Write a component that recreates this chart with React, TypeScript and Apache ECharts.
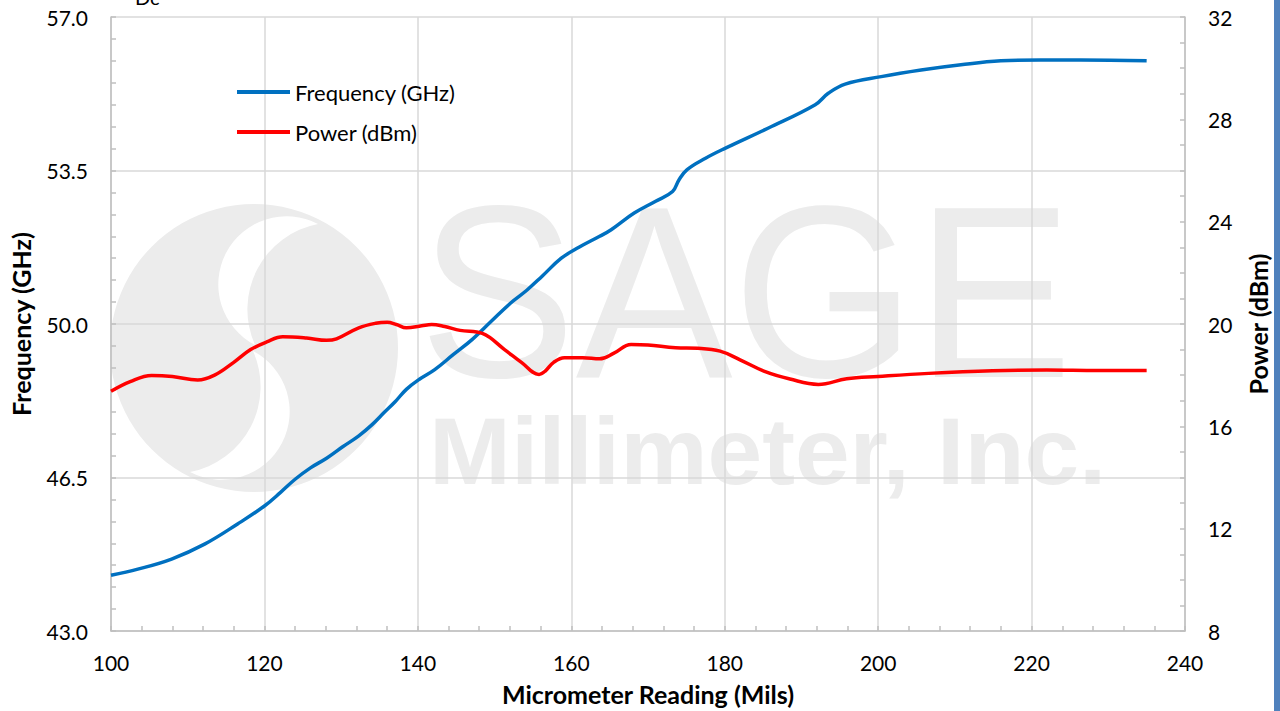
import React, { useEffect, useRef } from "react";
import * as echarts from "echarts";

const freqX = [100, 103.5, 107.9, 112.2, 116.5, 120, 122.1, 124, 126, 128.1, 130.2, 132.3, 134, 135.6, 137, 138.5, 140.2, 142.2, 144.6, 147.1, 149.5, 152.1, 154.2, 156.2, 158.7, 161, 163.7, 165.2, 168.2, 171, 173.2, 174.05, 175.1, 177.5, 180.1, 185.7, 191.8, 193.5, 195.7, 200.4, 205.6, 210.8, 216, 221.2, 226.4, 235];
const freqY = [44.27, 44.41, 44.64, 44.98, 45.44, 45.85, 46.16, 46.46, 46.72, 46.94, 47.2, 47.45, 47.7, 47.98, 48.22, 48.51, 48.74, 48.96, 49.3, 49.65, 50.05, 50.48, 50.77, 51.09, 51.5, 51.75, 52.0, 52.15, 52.53, 52.8, 53.02, 53.29, 53.52, 53.78, 54.01, 54.47, 55.0, 55.26, 55.47, 55.64, 55.79, 55.91, 56.0, 56.02, 56.02, 56.0];

const powerX = [100, 102.5, 105.3, 108, 111.3, 113.5, 116, 118.2, 120.3, 122.4, 125.5, 128.1, 129.4, 132.3, 134.5, 136.0, 137.2, 138.5, 140.5, 141.8, 143.5, 145.5, 148.4, 151.3, 153.5, 155.8, 156.6, 157.7, 159.1, 161.5, 163.7, 165.5, 167.8, 170, 173.6, 176.5, 179.4, 182, 185.1, 188.5, 192.2, 195.9, 200, 206.6, 214.9, 222, 228.7, 235];
const powerY = [17.37, 17.75, 17.99, 17.95, 17.81, 18.0, 18.5, 19.0, 19.3, 19.5, 19.45, 19.36, 19.42, 19.85, 20.03, 20.07, 19.98, 19.85, 19.93, 19.98, 19.9, 19.75, 19.63, 19.0, 18.5, 18.03, 18.16, 18.5, 18.68, 18.68, 18.64, 18.85, 19.2, 19.18, 19.07, 19.05, 18.94, 18.6, 18.16, 17.85, 17.64, 17.86, 17.95, 18.07, 18.17, 18.2, 18.18, 18.18];

const seriesNames = ["Frequency (GHz)", "Power (dBm)"];
const xAxisName = "Micrometer Reading (Mils)";
const leftAxisName = "Frequency (GHz)";
const rightAxisName = "Power (dBm)";

const FONT = "Lato";
const AXIS_COLOR = "#bfbfbf";
const GRID_COLOR = "#d9d9d9";
const WM = "#ececec";

export default function App() {
  const ref = useRef<HTMLDivElement>(null);
  useEffect(() => {
    if (!ref.current) return;
    const topPath = echarts.graphic.extendPath(
      "M 318 224 A 68 68 0 0 0 255 345 A 87 87 0 0 1 318 224 Z",
      {}
    );
    const botPath = echarts.graphic.extendPath(
      "M 190 472 A 68 68 0 0 0 253 351 A 87 87 0 0 1 190 472 Z",
      {}
    );
    echarts.graphic.registerShape("swooshTop", topPath);
    echarts.graphic.registerShape("swooshBot", botPath);

    const chart = echarts.init(ref.current, undefined, { renderer: "svg" });
    const freqData = freqX.map((x, i) => [x, freqY[i]]);
    const powerData = powerX.map((x, i) => [x, powerY[i]]);

    const axisCommon = {
      axisLine: { show: true, lineStyle: { color: AXIS_COLOR, width: 1.5 } },
      axisTick: { show: true, inside: true, length: 5, lineStyle: { color: AXIS_COLOR, width: 1.5 } },
      axisLabel: { color: "#000", fontFamily: FONT, fontSize: 21 },
      nameTextStyle: { color: "#000", fontFamily: FONT, fontSize: 25, fontWeight: "bold" as const },
    };

    chart.setOption({
      animation: false,
      backgroundColor: "#fff",
      grid: { left: 106, right: 95, top: 17, bottom: 79, containLabel: false },
      legend: {
        orient: "vertical",
        left: 237,
        top: 81,
        padding: 0,
        icon: "rect",
        itemWidth: 53,
        itemHeight: 4,
        itemGap: 18,
        textStyle: { color: "#000", fontFamily: FONT, fontSize: 22 },
        data: seriesNames,
      },
      xAxis: {
        type: "value",
        min: 100,
        max: 240,
        interval: 20,
        name: xAxisName,
        nameLocation: "middle",
        nameGap: 50,
        ...axisCommon,
        axisLabel: { ...axisCommon.axisLabel, margin: 21 },
        minorTick: { show: true, splitNumber: 5, length: 5, lineStyle: { color: AXIS_COLOR, width: 1.5 } },
        splitLine: { show: true, lineStyle: { color: GRID_COLOR, width: 1.5 } },
      },
      yAxis: [
        {
          type: "value",
          position: "left",
          min: 43,
          max: 57,
          interval: 3.5,
          name: leftAxisName,
          nameLocation: "middle",
          nameRotate: 90,
          nameGap: 78,
          ...axisCommon,
          axisLabel: { ...axisCommon.axisLabel, margin: 23, formatter: (v: number) => v.toFixed(1) },
          minorTick: { show: true, splitNumber: 7, length: 5, lineStyle: { color: AXIS_COLOR, width: 1.5 } },
          splitLine: { show: true, lineStyle: { color: GRID_COLOR, width: 1.5 } },
        },
        {
          type: "value",
          position: "right",
          min: 8,
          max: 32,
          interval: 4,
          name: rightAxisName,
          nameLocation: "middle",
          nameRotate: 90,
          nameGap: 60,
          ...axisCommon,
          axisLabel: { ...axisCommon.axisLabel, margin: 23 },
          minorTick: { show: true, splitNumber: 4, length: 5, lineStyle: { color: AXIS_COLOR, width: 1.5 } },
          splitLine: { show: false },
        },
      ],
      graphic: [
        { type: "circle", z: -10, silent: true, shape: { cx: 254, cy: 348, r: 144 }, style: { fill: WM } },
        { type: "swooshTop", z: -9, silent: true, style: { fill: "#fff" } },
        { type: "swooshBot", z: -9, silent: true, style: { fill: "#fff" } },
        {
          type: "text", z: -10, silent: true, x: 419, y: 292, scaleX: 0.96,
          style: { text: "SAGE", fill: WM, font: "245px 'Liberation Sans'", textAlign: "left", textVerticalAlign: "middle" },
        },
        {
          type: "text", z: -10, silent: true, x: 429, y: 451, scaleX: 1.035,
          style: { text: "Millimeter, Inc.", fill: WM, font: "bold 95px 'Liberation Sans'", textAlign: "left", textVerticalAlign: "middle" },
        },
        {
          type: "text", silent: true, x: 135, y: 7,
          style: { text: "Dc", fill: "#000", font: "20px Lato", textAlign: "left", textVerticalAlign: "bottom" },
        },
        { type: "rect", silent: true, shape: { x: 1274, y: 0, width: 6, height: 711 }, style: { fill: "#4f81bd" } },
      ],
      series: [
        {
          name: seriesNames[0],
          type: "line",
          yAxisIndex: 0,
          data: freqData,
          smooth: 0.4,
          symbol: "none",
          lineStyle: { color: "#0070c0", width: 3.5 },
          itemStyle: { color: "#0070c0" },
        },
        {
          name: seriesNames[1],
          type: "line",
          yAxisIndex: 1,
          data: powerData,
          smooth: 0.4,
          symbol: "none",
          lineStyle: { color: "#ff0000", width: 3.5 },
          itemStyle: { color: "#ff0000" },
        },
      ],
    });
    return () => chart.dispose();
  }, []);
  return (
    <div
      ref={ref}
      style={{ position: "absolute", left: 0, top: 0, width: 1280, height: 711 }}
    />
  );
}
